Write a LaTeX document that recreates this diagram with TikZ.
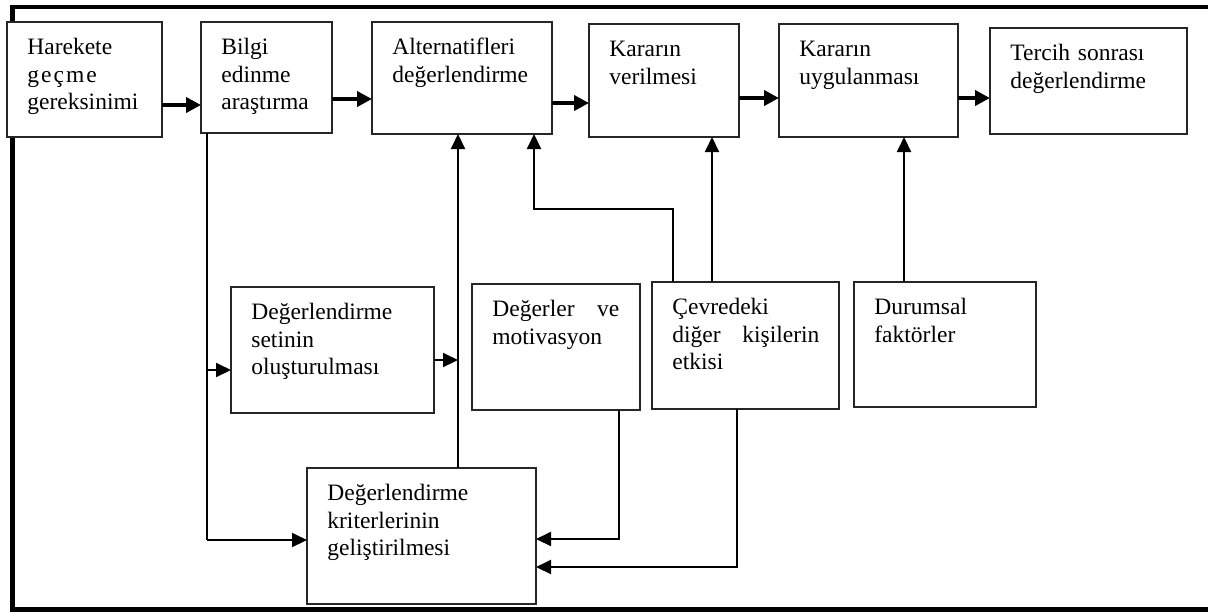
\documentclass[tikz,border=0pt]{standalone}
\usepackage{fontspec}
\setmainfont{Liberation Serif}
\usetikzlibrary{arrows.meta,calc}
\tikzset{
 boxst/.style={draw=black!85, line width=0.6pt, fill=white, inner sep=0pt, outer sep=0pt, anchor=north west},
 txt/.style={anchor=north west, inner sep=0pt, align=left, font=\fontsize{11.75pt}{13.75pt}\selectfont},
 tarr/.style={line width=2pt, -{Triangle[length=7.5pt,width=7.5pt]}},
 carr/.style={line width=1pt, -{Triangle[length=7.5pt,width=7pt]}},
 cline/.style={line width=1pt},
 frameline/.style={line width=2.3pt},
}
\newcommand\mybox[7]{%
 \node[boxst, minimum width={(#4-#2)*0.5pt}, minimum height={(#5-#3)*0.5pt}] (#1) at (#2,#3) {};
 \node[txt, text width=#6] (#1t) at (#2+20,#3+13) {\strut #7};
}
\begin{document}
\begin{tikzpicture}[x=0.5pt, y=-0.5pt]
\useasboundingbox (0,0) rectangle (1208,612);
% outer frame
\draw[frameline] (1210,7) -- (12.5,7) -- (12.5,609.5) -- (1210,609.5);
% boxes
\mybox{a1}{7}{22}{162}{137}{70pt}{Harekete\\g\kern1pt e\kern1pt ç\kern1pt m\kern1pt e\\gereksinimi}
\mybox{a2}{201}{22}{332}{133}{60pt}{Bilgi\\edinme\\araştırma}
\mybox{a3}{372}{22}{552}{134}{80pt}{Alternatifleri\\değerlendirme}
\mybox{a4}{589}{24}{739}{137}{65pt}{Kararın\\verilmesi}
\mybox{a5}{779}{24}{958}{137}{75pt}{Kararın\\uygulanması}
\mybox{a6}{990}{28}{1187}{134}{85pt}{Tercih sonrası\\değerlendirme}
\mybox{s}{231}{287}{434}{413}{85pt}{Değerlendirme\\setinin\\oluşturulması}
\mybox{v}{472}{284}{640}{410}{63.5pt}{Değerler\hfill ve\\motivasyon}
\mybox{c}{652}{282}{839}{409}{73.5pt}{Çevredeki\\diğer\hfill kişilerin\\etkisi}
\mybox{d}{854}{282}{1036}{407}{75pt}{Durumsal\\faktörler}
\mybox{k}{307}{468}{536}{604}{90pt}{Değerlendirme\\kriterlerinin\\geliştirilmesi}
% top row arrows
\coordinate (y1) at (0,105);
\coordinate (y2) at (0,99);
\coordinate (y3) at (0,103);
\coordinate (y4) at (0,98);
\coordinate (y5) at (0,98);
\draw[tarr] (a1.east |- y1) -- (a2.west |- y1);
\draw[tarr] (a2.east |- y2) -- (a3.west |- y2);
\draw[tarr] (a3.east |- y3) -- (a4.west |- y3);
\draw[tarr] (a4.east |- y4) -- (a5.west |- y4);
\draw[tarr] (a5.east |- y5) -- (a6.west |- y5);
% connectors
\coordinate (pL) at (207,540);
\coordinate (pS) at (207,370);
\draw[cline] (a2.south -| pL) -- (pL);
\draw[carr] (pL) -- (k.west |- pL);
\draw[carr] (pS) -- (s.west |- pS);
\coordinate (pV) at (458,360);
\draw[carr] (s.east |- pV) -- (pV);
\draw[carr] (k.north -| pV) -- (a3.south -| pV);
\coordinate (pM) at (619,539);
\draw[carr] (v.south -| pM) -- (pM) -- (k.east |- pM);
\coordinate (pC) at (737,567);
\draw[carr] (c.south -| pC) -- (pC) -- (k.east |- pC);
\coordinate (pT) at (673,209);
\coordinate (pT2) at (534,209);
\draw[carr] (c.north -| pT) -- (pT) -- (pT2) -- (a3.south -| pT2);
\coordinate (pU) at (712,0);
\draw[carr] (c.north -| pU) -- (a4.south -| pU);
\coordinate (pD) at (904,0);
\draw[carr] (d.north -| pD) -- (a5.south -| pD);
\end{tikzpicture}
\end{document}
